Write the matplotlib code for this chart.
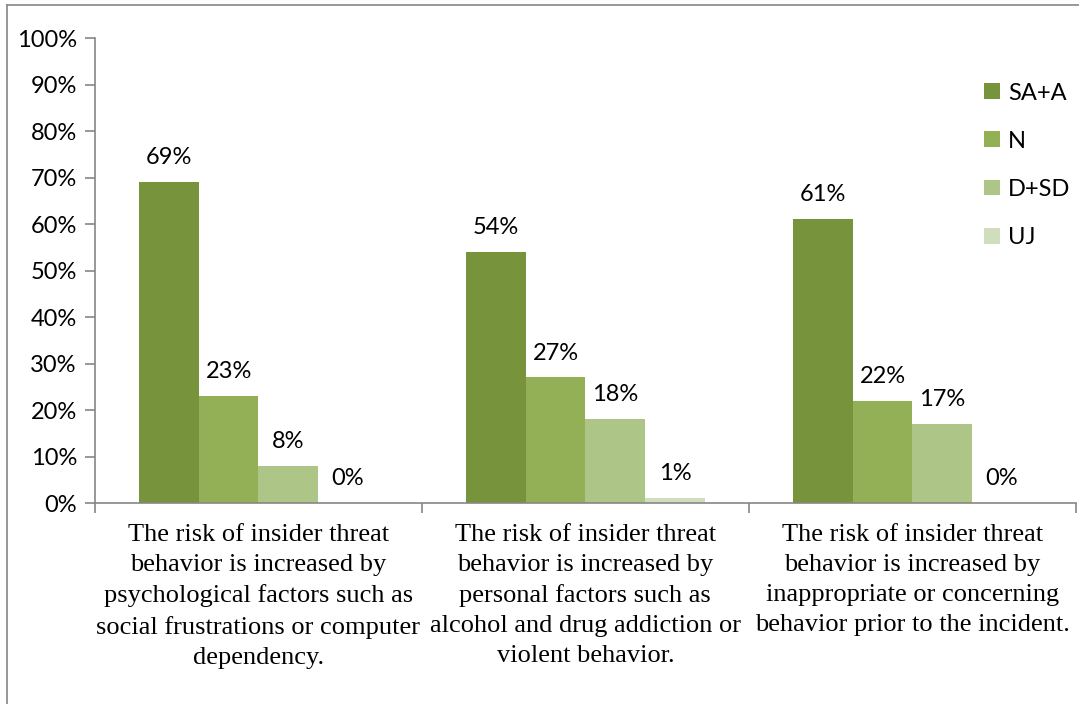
"""
Grouped bar chart of agreement with insider threat risk statements.
"""

import numpy as np
import matplotlib.pyplot as plt
from matplotlib.lines import Line2D

categories = [
    "The risk of insider threat\nbehavior is increased by\npsychological factors such as\nsocial frustrations or computer\ndependency.",
    "The risk of insider threat\nbehavior is increased by\npersonal factors such as\nalcohol and drug addiction or\nviolent behavior.",
    "The risk of insider threat\nbehavior is increased by\ninappropriate or concerning\nbehavior prior to the incident.",
]
series_names = ["SA+A", "N", "D+SD", "UJ"]
sa_a = [69, 54, 61]
n = [23, 27, 22]
d_sd = [8, 18, 17]
uj = [0, 1, 0]
colors = ["#77933C", "#93B057", "#ADC687", "#D1DEBC"]

values = [sa_a, n, d_sd, uj]

fig = plt.figure(figsize=(10.79, 7.04), dpi=100)
ax = fig.add_axes([0.088, 0.2855, 0.909, 0.6605])

x = np.arange(len(categories))
width = 0.1825
offsets = (np.arange(len(series_names)) - 1.5) * width

for vals, name, col, off in zip(values, series_names, colors, offsets):
    bars = ax.bar(x + off, vals, width, color=col, label=name, linewidth=0)
    for b, v in zip(bars, vals):
        ax.annotate(f"{v}%", (b.get_x() + b.get_width() / 2, v),
                    xytext=(0, 10), textcoords="offset points",
                    ha="center", va="bottom", fontsize=17, family="Lato")

ax.set_xlim(-0.5, len(categories) - 0.5)
ax.set_ylim(0, 100)
ax.set_yticks(range(0, 101, 10))
ax.set_yticklabels([f"{t}%" for t in range(0, 101, 10)], fontsize=17, family="Lato")

# boundaries get tick marks, centers get the labels
ax.set_xticks(np.arange(len(categories) + 1) - 0.5)
ax.set_xticklabels([])
ax.set_xticks(x, minor=True)
ax.set_xticklabels(categories, minor=True, fontsize=19, family="Liberation Serif",
                   linespacing=1.47)
ax.tick_params(axis="x", which="minor", length=0, pad=15)
ax.tick_params(axis="x", which="major", length=7, color="#868686", width=1.2)
ax.tick_params(axis="y", length=7, color="#868686", width=1.2, pad=6)

for side in ["top", "right"]:
    ax.spines[side].set_visible(False)
for side in ["left", "bottom"]:
    ax.spines[side].set_color("#868686")
    ax.spines[side].set_linewidth(1.2)

leg = ax.legend(loc="upper left", bbox_to_anchor=(0.885, 0.95), frameon=False,
                prop={"family": "Lato", "size": 17}, handlelength=0.65,
                handleheight=0.65, labelspacing=1.15, handletextpad=0.35)

# chart area border
fig.add_artist(Line2D([7 / 1079, 7 / 1079], [0, 1 - 5 / 704], color="#868686", lw=1.2))
fig.add_artist(Line2D([7 / 1079, 1], [1 - 5 / 704, 1 - 5 / 704], color="#868686", lw=1.2))

plt.savefig("out.png", dpi=100)
